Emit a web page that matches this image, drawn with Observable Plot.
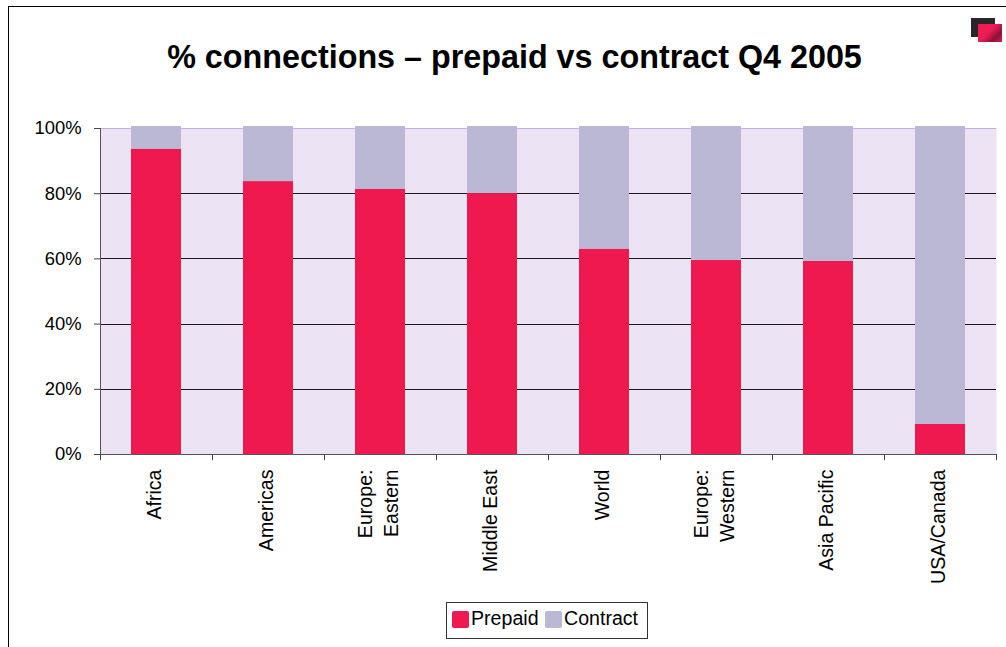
<!DOCTYPE html>
<html>
<head>
<meta charset="utf-8">
<script src="https://cdn.jsdelivr.net/npm/d3@7"></script>
<script src="https://cdn.jsdelivr.net/npm/@observablehq/plot@0.6"></script>
<style>
html,body{margin:0;padding:0;background:#fff;overflow:hidden}
#wrap{position:relative;width:1006px;height:647px;font-family:"Liberation Sans",Arial,sans-serif;color:#000}
#frame{position:absolute;left:8px;top:6px;width:998px;height:641px;border-left:1px solid #000;border-top:1px solid #000;box-sizing:border-box}
#title{position:absolute;left:0;top:38px;width:1029px;text-align:center;font-size:32.3px;font-weight:bold;line-height:38px;white-space:nowrap}
#logo1{position:absolute;left:971px;top:18px;width:24px;height:19px;background:#2a2528}
#logo2{position:absolute;left:978px;top:24px;width:24px;height:18px;background:linear-gradient(135deg,#ee1c55 45%,#8c1238 75%,#e01a50 100%)}
#legend{position:absolute;left:446px;top:602px;width:202px;height:37px;border:1px solid #333;box-sizing:border-box;background:#fff;font-size:19.6px}
.sw{position:absolute;top:8px;width:17px;height:17px;border-radius:2px}
.lb{position:absolute;top:4px;line-height:23px}
svg{position:absolute;left:0;top:0;font-family:"Liberation Sans",Arial,sans-serif}
</style>
</head>
<body>
<div id="wrap">
<div id="frame"></div>
<div id="chart"></div>
<div id="title">% connections – prepaid vs contract Q4 2005</div>
<div id="logo1"></div><div id="logo2"></div>
<div id="legend">
<div class="sw" style="left:5px;background:#F0194F"></div><div class="lb" style="left:24px">Prepaid</div>
<div class="sw" style="left:98px;background:#BBB8D6"></div><div class="lb" style="left:117px">Contract</div>
</div>
</div>
<script>
const categories = ["Africa","Americas","Europe:\nEastern","Middle East","World","Europe:\nWestern","Asia Pacific","USA/Canada"];
const prepaid  = [93.6,83.7,81.3,80.0,62.9,59.5,59.2,9.2];
const contract = [6.4,16.3,18.7,20.0,37.1,40.5,40.8,90.8];
const yTicks = [0,20,40,60,80,100];
const gridTicks = [0,20,40,60,80];
const colors = {Prepaid:"#F0194F",Contract:"#BBB8D6"};

const rows = categories.map((c,i)=>({c,prepaid:prepaid[i],contract:contract[i],total:prepaid[i]+contract[i]}));
const step = (996-100)/categories.length;

const plot = Plot.plot({
  width:1006,height:647,
  marginLeft:100,marginRight:10,marginTop:128,marginBottom:193,
  style:{fontFamily:"Liberation Sans, Arial, sans-serif",fontSize:"18px",background:"transparent",color:"#000"},
  x:{domain:categories,paddingInner:0.55,paddingOuter:0.275,label:null},
  y:{domain:[0,100],label:null},
  marks:[
    Plot.frame({fill:"#ECE4F4",stroke:null}),
    Plot.ruleY([100],{stroke:"#BDB3D6",strokeWidth:1}),
    Plot.ruleY(gridTicks,{stroke:"#1a1a1a",strokeWidth:1,shapeRendering:"crispEdges"}),
    Plot.barY(rows,{x:"c",y1:"prepaid",y2:"total",fill:colors.Contract,insetTop:-2}),
    Plot.barY(rows,{x:"c",y1:0,y2:"prepaid",fill:colors.Prepaid}),
    Plot.ruleY([0],{stroke:"#555",strokeWidth:1,shapeRendering:"crispEdges"}),
    Plot.ruleX([0],{x:()=>categories[0],y1:0,y2:100,dx:-step/2,stroke:"#555",strokeWidth:1}),
    Plot.ruleX(categories,{y1:0,y2:-1.9,dx:step/2,stroke:"#444",strokeWidth:1}),
    Plot.ruleX([categories[0]],{y1:0,y2:-1.9,dx:-step/2,stroke:"#444",strokeWidth:1}),
    Plot.axisY({ticks:yTicks,tickFormat:d=>d+"%",tickSize:6,tickPadding:13,stroke:"#444",fontSize:18.4,label:null}),
    Plot.axisX({tickSize:0,tickRotate:-90,tickPadding:15,dx:-3.5,fontSize:19.6,label:null,lineHeight:1.33,textOverflow:null})
  ]
});
document.getElementById("chart").appendChild(plot);
</script>
</body>
</html>
